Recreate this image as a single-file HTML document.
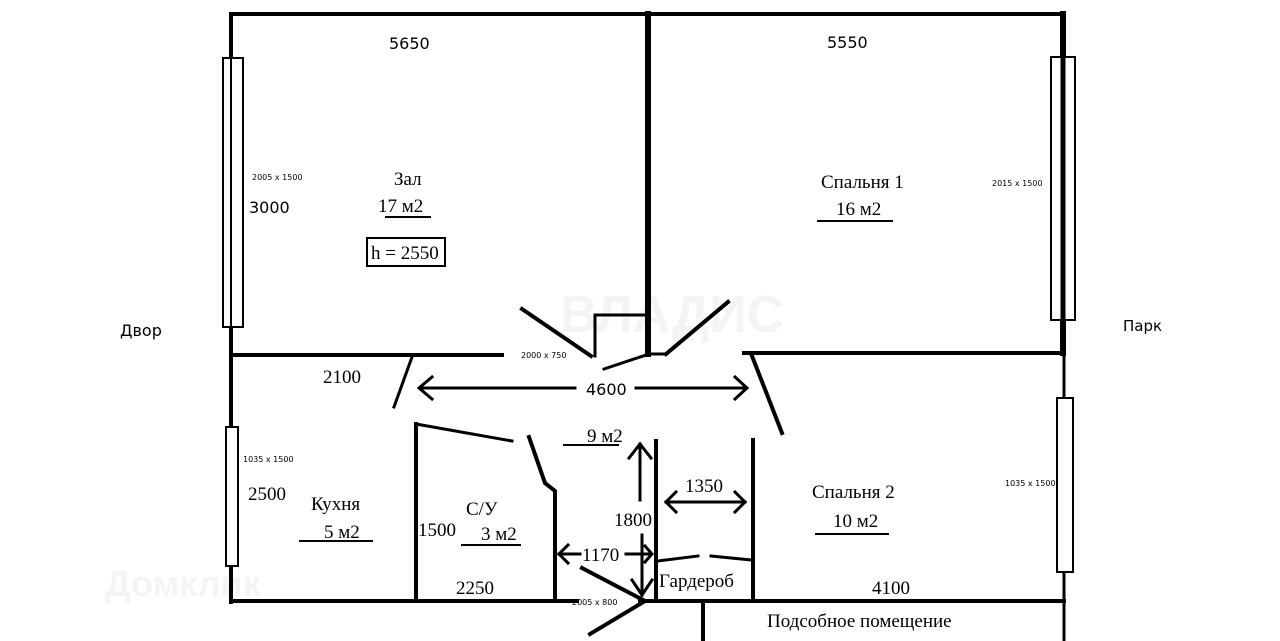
<!DOCTYPE html>
<html><head><meta charset="utf-8"><style>
html,body{margin:0;padding:0;background:#fff;}
svg{display:block;}
.s{font-family:"DejaVu Sans","Liberation Sans",sans-serif;fill:#000;}
.r{font-family:"Liberation Serif","Noto Serif CJK SC",serif;fill:#000;}
</style></head><body>
<svg width="1280" height="641" viewBox="0 0 1280 641" xmlns="http://www.w3.org/2000/svg">
<g font-family="Liberation Sans, sans-serif" font-weight="bold">
<text x="560" y="332" font-size="52" fill="#f4f4f4">ВЛАДИС</text>
<text x="105" y="596" font-size="36" fill="#f4f4f4">Домклик</text>
</g>
<g stroke="#000" fill="none" stroke-linecap="square">
<line x1="231" y1="14" x2="1064" y2="14" stroke-width="4"/>
<line x1="231" y1="14" x2="231" y2="602" stroke-width="4"/>
<line x1="231" y1="601" x2="577" y2="601" stroke-width="4"/>
<line x1="640" y1="601" x2="1064" y2="601" stroke-width="4"/>
<line x1="1064" y1="14" x2="1064" y2="641" stroke-width="3"/>
<line x1="1063" y1="14" x2="1063" y2="353" stroke-width="6"/>
<line x1="648" y1="14" x2="648" y2="354" stroke-width="6"/>
<line x1="231" y1="355" x2="502" y2="355" stroke-width="4"/>
<line x1="744" y1="353" x2="1064" y2="353" stroke-width="4"/>
<line x1="648" y1="354" x2="666" y2="354" stroke-width="3"/>
<line x1="522" y1="309" x2="591" y2="356" stroke-width="4"/>
<polyline points="595,356 595,315 648,315" stroke-width="3"/>
<line x1="666" y1="354" x2="728" y2="302" stroke-width="4"/>
<line x1="604" y1="369" x2="646" y2="355" stroke-width="3"/>
<line x1="752" y1="356" x2="782" y2="433" stroke-width="4"/>
<line x1="412" y1="357" x2="394" y2="407" stroke-width="3"/>
<line x1="416" y1="424" x2="416" y2="601" stroke-width="4"/>
<line x1="416" y1="424" x2="512" y2="441" stroke-width="3"/>
<polyline points="529,437 545,483 555,491 555,601" stroke-width="4"/>
<line x1="656" y1="441" x2="656" y2="601" stroke-width="4"/>
<line x1="753" y1="440" x2="753" y2="601" stroke-width="4"/>
<line x1="658" y1="561" x2="698" y2="556" stroke-width="3"/>
<line x1="711" y1="556" x2="751" y2="560" stroke-width="3"/>
<polyline points="582,568 645,601 590,634" stroke-width="4"/>
<line x1="703" y1="602" x2="703" y2="641" stroke-width="4"/>
<rect x="223" y="58" width="20" height="269" stroke-width="2" fill="#fff"/>
<line x1="231" y1="58" x2="231" y2="327" stroke-width="2"/>
<rect x="226" y="427" width="12" height="139" stroke-width="2" fill="#fff"/>
<rect x="1051" y="57" width="24" height="263" stroke-width="2" fill="#fff"/>
<line x1="1063" y1="57" x2="1063" y2="320" stroke-width="5"/>
<rect x="1057" y="398" width="16" height="174" stroke-width="2" fill="#fff"/>
<line x1="386" y1="217" x2="430" y2="217" stroke-width="2"/>
<line x1="818" y1="221" x2="892" y2="221" stroke-width="2"/>
<line x1="300" y1="541" x2="372" y2="541" stroke-width="2"/>
<line x1="462" y1="545" x2="520" y2="545" stroke-width="2"/>
<line x1="564" y1="445" x2="618" y2="445" stroke-width="2"/>
<line x1="816" y1="534" x2="888" y2="534" stroke-width="2"/>
<rect x="367" y="238" width="78" height="28" stroke-width="2"/>
<g stroke-width="3">
<line x1="420" y1="388" x2="575" y2="388"/>
<line x1="636" y1="388" x2="746" y2="388"/>
<polyline points="432,377 419,388 432,399"/>
<polyline points="735,377 747,388 735,399"/>
<line x1="640" y1="444" x2="640" y2="500"/>
<polyline points="629,458 640,444 651,458"/>
<line x1="642" y1="535" x2="642" y2="595"/>
<polyline points="632,580 642,595 652,580"/>
<line x1="666" y1="502" x2="745" y2="502"/>
<polyline points="676,492 666,502 676,512"/>
<polyline points="735,492 745,502 735,512"/>
<line x1="559" y1="554" x2="580" y2="554"/>
<polyline points="568,545 559,554 568,563"/>
<line x1="626" y1="554" x2="651" y2="554"/>
<polyline points="645,546 652,554 645,562"/>
</g>
</g>
<g class="s">
<text x="389" y="49" font-size="16">5650</text>
<text x="827" y="48" font-size="16">5550</text>
<text x="249" y="213" font-size="16">3000</text>
<text x="120" y="336" font-size="16">Двор</text>
<text x="1123" y="331" font-size="15">Парк</text>
<text x="586" y="395" font-size="16">4600</text>
<text x="252" y="180" font-size="8">2005 x 1500</text>
<text x="992" y="186" font-size="8">2015 x 1500</text>
<text x="243" y="462" font-size="8">1035 x 1500</text>
<text x="1005" y="486" font-size="8">1035 x 1500</text>
<text x="521" y="358" font-size="8">2000 x 750</text>
<text x="572" y="605" font-size="8">2005 x 800</text>
</g>
<g class="r" font-size="19">
<text x="394" y="185">Зал</text>
<text x="378" y="212">17 м2</text>
<text x="371" y="259">h = 2550</text>
<text x="821" y="188">Спальня 1</text>
<text x="836" y="215">16 м2</text>
<text x="323" y="383">2100</text>
<text x="248" y="500">2500</text>
<text x="311" y="510">Кухня</text>
<text x="324" y="538">5 м2</text>
<text x="466" y="515">С/У</text>
<text x="481" y="540">3 м2</text>
<text x="418" y="536">1500</text>
<text x="456" y="594">2250</text>
<text x="587" y="442">9 м2</text>
<text x="614" y="526">1800</text>
<text x="685" y="492">1350</text>
<text x="582" y="561">1170</text>
<text x="659" y="587">Гардероб</text>
<text x="812" y="498">Спальня 2</text>
<text x="833" y="527">10 м2</text>
<text x="872" y="594">4100</text>
<text x="767" y="627">Подсобное помещение</text>
</g>
</svg>
</body></html>
